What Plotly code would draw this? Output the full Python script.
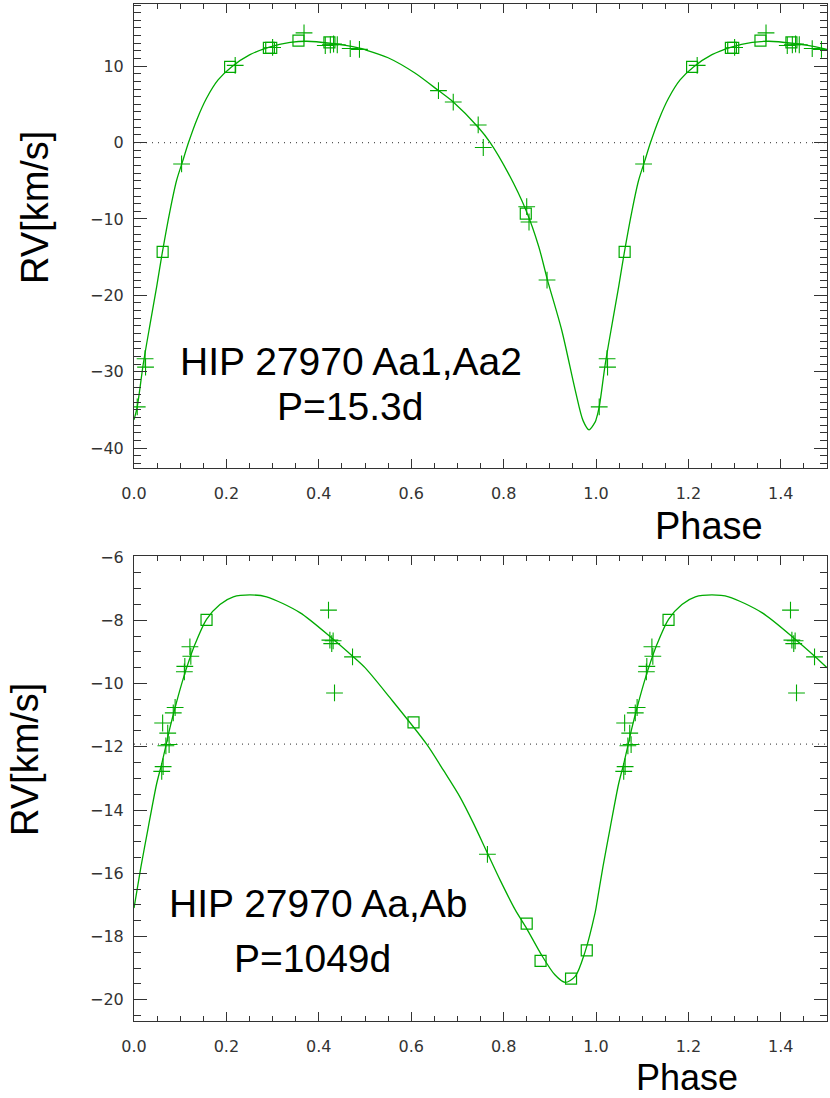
import plotly.graph_objects as go

# ---- data ----
# top panel: HIP 27970 Aa1,Aa2 (P=15.3d)
top_curve_phase = [0.0, 0.007, 0.02, 0.035, 0.049, 0.061, 0.078, 0.092, 0.105, 0.118,
                   0.136, 0.157, 0.182, 0.211, 0.251, 0.293, 0.338, 0.374, 0.424, 0.488,
                   0.5, 0.55, 0.608, 0.659, 0.691, 0.745, 0.771, 0.81, 0.848, 0.876,
                   0.895, 0.926, 0.955, 0.972, 0.985, 0.998]
top_curve_rv = [-36.3, -34.6, -29.0, -23.7, -18.9, -14.5, -8.9, -5.0, -2.5, 0.0,
                3.0, 5.8, 8.2, 9.9, 11.5, 12.5, 13.1, 13.26, 13.0, 12.35,
                12.15, 11.1, 9.1, 6.8, 5.3, 2.0, 0.0, -4.0, -8.8, -13.6,
                -18.0, -24.6, -32.4, -36.4, -37.6, -36.6]

top_cross_phase = [0.007, 0.024, 0.025, 0.103, 0.219, 0.300, 0.368, 0.414, 0.425, 0.432,
                   0.440, 0.468, 0.488, 0.659, 0.691, 0.745, 0.756, 0.850, 0.855, 0.894]
top_cross_rv = [-34.6, -28.3, -29.4, -2.8, 10.1, 12.45, 14.35, 12.7, 12.8, 12.9,
                12.8, 12.3, 12.2, 6.8, 5.3, 2.3, -0.65, -8.4, -10.4, -18.0]

top_square_phase = [0.062, 0.208, 0.292, 0.297, 0.356, 0.423, 0.848]
top_square_rv = [-14.3, 9.9, 12.4, 12.4, 13.35, 13.1, -9.3]

top_gamma = 0.0

# bottom panel: HIP 27970 Aa,Ab (P=1049d)
bot_curve_phase = [0.0, 0.015, 0.031, 0.049, 0.06, 0.069, 0.078, 0.089, 0.103, 0.114,
                   0.132, 0.157, 0.186, 0.215, 0.251, 0.287, 0.359, 0.431, 0.475, 0.5,
                   0.554, 0.633, 0.67, 0.706, 0.734, 0.763, 0.792, 0.825, 0.85, 0.882,
                   0.911, 0.933, 0.955, 0.976, 0.998]
bot_curve_rv = [-17.1, -15.8, -14.54, -13.17, -12.54, -11.97, -11.39, -10.76, -10.02, -9.5,
                -8.76, -7.97, -7.5, -7.26, -7.2, -7.26, -7.76, -8.6, -9.16, -9.5,
                -10.45, -11.91, -12.75, -13.6, -14.4, -15.3, -16.2, -17.15, -17.75, -18.58,
                -19.21, -19.45, -19.26, -18.5, -17.25]

bot_cross_phase = [0.060, 0.062, 0.063, 0.069, 0.073, 0.076, 0.085, 0.089, 0.109, 0.110,
                   0.121, 0.123, 0.421, 0.424, 0.428, 0.431, 0.434, 0.473, 0.765]
bot_cross_rv = [-12.78, -11.25, -12.63, -11.97, -11.57, -11.93, -10.93, -10.76, -9.63, -9.46,
                -8.84, -9.14, -7.68, -8.63, -8.74, -8.65, -10.3, -9.16, -15.4]

bot_square_phase = [0.157, 0.605, 0.850, 0.880, 0.946, 0.980]
bot_square_rv = [-7.99, -11.23, -17.59, -18.77, -19.33, -18.44]

bot_gamma = -11.92

x_ticks = [0.0, 0.2, 0.4, 0.6, 0.8, 1.0, 1.2, 1.4]

GREEN = "#00aa00"
AXIS = "#333333"
W, H = 830, 1098


def fold(phase, values):
    """Repeat the first half cycle after phase 1 (plot spans 0..1.5)."""
    p = list(phase) + [x + 1 for x in phase if x <= 0.5]
    v = list(values) + [y for x, y in zip(phase, values) if x <= 0.5]
    return p, v


def px(x, y):
    """Screen pixel -> paper coordinates."""
    return x / W, 1 - y / H


def add_panel(fig, xa, ya, curve, crosses, squares):
    cp, cv = fold(*curve)
    fig.add_trace(go.Scatter(x=cp, y=cv, mode="lines", xaxis=xa, yaxis=ya,
                             line=dict(color=GREEN, width=1.3, shape="spline", smoothing=0.8),
                             showlegend=False, hoverinfo="skip"))
    xp, xv = fold(*crosses)
    fig.add_trace(go.Scatter(x=xp, y=xv, mode="markers", xaxis=xa, yaxis=ya,
                             marker=dict(symbol="cross-thin-open", size=12, color=GREEN,
                                         line=dict(color=GREEN, width=1.1)),
                             showlegend=False))
    sp, sv = fold(*squares)
    fig.add_trace(go.Scatter(x=sp, y=sv, mode="markers", xaxis=xa, yaxis=ya,
                             marker=dict(symbol="square-open", size=11, color=GREEN,
                                         line=dict(color=GREEN, width=1.2)),
                             showlegend=False))


fig = go.Figure()
add_panel(fig, "x", "y", (top_curve_phase, top_curve_rv),
          (top_cross_phase, top_cross_rv), (top_square_phase, top_square_rv))
add_panel(fig, "x2", "y2", (bot_curve_phase, bot_curve_rv),
          (bot_cross_phase, bot_cross_rv), (bot_square_phase, bot_square_rv))

for xref, yref, g in [("x domain", "y", top_gamma), ("x2 domain", "y2", bot_gamma)]:
    fig.add_shape(type="line", xref=xref, yref=yref, x0=0, x1=1, y0=g, y1=g,
                  line=dict(color="#555555", width=1.2, dash="1px,5px"), layer="below")

tick_font = dict(family="DejaVu Sans", size=16, color=AXIS)
common = dict(showline=True, linecolor=AXIS, linewidth=1, mirror="allticks",
              ticks="inside", tickcolor=AXIS, tickwidth=1, showgrid=False,
              zeroline=False, tickfont=tick_font, automargin=False)

x0, x1 = px(134, 0)[0], px(827, 0)[0]
top_dom = [px(0, 468)[1], px(0, 3.5)[1]]
bot_dom = [px(0, 1021)[1], px(0, 556)[1]]

xaxis_cfg = dict(common, range=[0, 1.5], tickvals=x_ticks, tickformat=".1f", ticklen=9,
                 ticklabelstandoff=11,
                 minor=dict(ticks="inside", dtick=0.05, tick0=0, ticklen=5, tickcolor=AXIS))

fig.update_layout(
    width=W, height=H,
    margin=dict(l=0, r=0, t=0, b=0),
    paper_bgcolor="white", plot_bgcolor="white",
    xaxis=dict(xaxis_cfg, domain=[x0, x1], anchor="y"),
    yaxis=dict(common, domain=top_dom, anchor="x", range=[-42.6, 18.2], dtick=10, tick0=0,
               ticklen=13, ticklabelstandoff=6,
               minor=dict(ticks="inside", dtick=1, tick0=0, ticklen=7, tickcolor=AXIS)),
    xaxis2=dict(xaxis_cfg, domain=[x0, x1], anchor="y2"),
    yaxis2=dict(common, domain=bot_dom, anchor="x2", range=[-20.67, -5.97], dtick=2, tick0=0,
                ticklen=13, ticklabelstandoff=6,
                minor=dict(ticks="inside", dtick=0.5, tick0=0, ticklen=7, tickcolor=AXIS)),
)

big = dict(family="Liberation Sans, Arial, sans-serif", size=39, color="black")
# text, centre x, centre y (pixels), angle, font size
labels = [
    ("HIP 27970 Aa1,Aa2", 351, 361, 0, 39),
    ("P=15.3d", 350, 406, 0, 39),
    ("HIP 27970 Aa,Ab", 318, 903, 0, 39),
    ("P=1049d", 312, 958, 0, 39),
    ("Phase", 709, 526, 0, 38),
    ("Phase", 687, 1077, 0, 36),
    ("RV[km/s]", 35, 208, -90, 38),
    ("RV[km/s]", 25, 760, -90, 38),
]
for text, lx, ly, ang, size in labels:
    ax, ay = px(lx, ly)
    fig.add_annotation(text=text, x=ax, y=ay, xref="paper", yref="paper",
                       xanchor="center", yanchor="middle", showarrow=False,
                       textangle=ang, font=dict(big, size=size))

# drop the default 8px page margin so the figure fills the window
fig.write_html("out.html", config={"displayModeBar": False},
               post_script="document.body.style.margin = '0';")
